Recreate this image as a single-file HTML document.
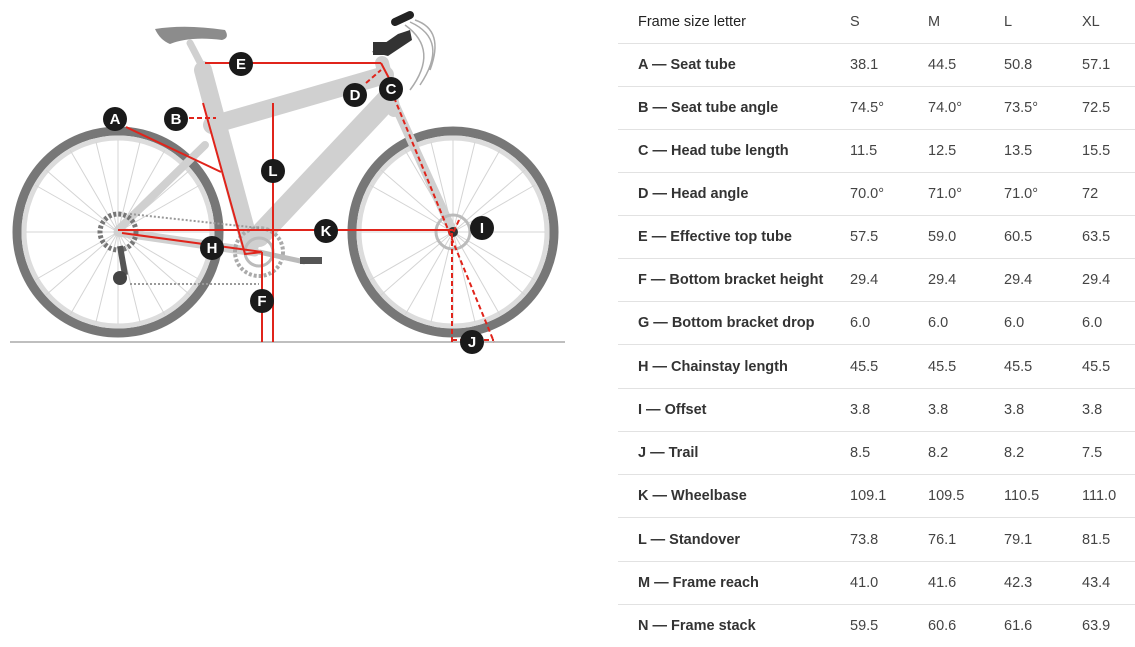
<!DOCTYPE html>
<html><head><meta charset="utf-8"><style>
body{margin:0;width:1135px;height:644px;background:#fff;overflow:hidden;position:relative;font-family:"Liberation Sans",Arial,sans-serif;}
svg{position:absolute;left:0;top:0}
.t{position:absolute;left:618px;top:0;width:517px}
.r{position:absolute;left:0;width:517px;height:43px;border-bottom:1px solid #e2e2e2;font-size:14.5px;color:#444}
.r span{position:absolute;top:50%;transform:translateY(-50%);white-space:nowrap}
.r b{position:absolute;left:20px;top:50%;transform:translateY(-50%);color:#333;white-space:nowrap}
.h b{font-weight:normal;color:#222}
</style></head><body>
<svg width="600" height="360" viewBox="0 0 600 360">
<g fill="none">
<!-- wheels -->
<circle cx="118" cy="232" r="101" stroke="#777" stroke-width="9"/>
<circle cx="118" cy="232" r="94" stroke="#dcdcdc" stroke-width="5"/>
<circle cx="453" cy="232" r="101" stroke="#777" stroke-width="9"/>
<circle cx="453" cy="232" r="94" stroke="#dcdcdc" stroke-width="5"/>
<g stroke="#d4d4d4" stroke-width="1">
<path d="M118 232L118 140M118 232L165 150M118 232L200 185M118 232L210 232M118 232L200 280M118 232L165 315M118 232L118 324M118 232L70 315M118 232L35 280M118 232L26 232M118 232L35 185M118 232L70 150M118 232L140 142M118 232L96 142M118 232L190 170M118 232L46 170M118 232L190 295M118 232L46 295M118 232L140 322M118 232L96 322"/>
<path d="M453 232L453 140M453 232L500 150M453 232L535 185M453 232L545 232M453 232L535 280M453 232L500 315M453 232L453 324M453 232L405 315M453 232L370 280M453 232L361 232M453 232L370 185M453 232L405 150M453 232L475 142M453 232L431 142M453 232L525 170M453 232L381 170M453 232L525 295M453 232L381 295M453 232L475 322M453 232L431 322"/>
</g>
<!-- frame -->
<g stroke="#d0d0d0" stroke-linecap="round">
<path d="M118 230L205 145" stroke-width="8"/>
<path d="M118 232L255 252" stroke-width="9"/>
<path d="M203 70L250 245" stroke-width="18"/>
<path d="M212 125L385 75" stroke-width="18"/>
<path d="M387 100L259 236" stroke-width="22"/>
<path d="M382 63L394 110" stroke-width="14"/>
<path d="M396 107L453 232" stroke-width="9"/>
<path d="M190 43L203 68" stroke-width="7"/>
</g>
<path d="M155 29Q185 24 225 30Q230 38 222 40Q190 36 170 44Q160 40 155 29Z" fill="#8c8c8c"/>
<path d="M372 52L398 34L410 30L412 40L388 56Z" fill="#333"/>
<rect x="373" y="42" width="14" height="13" fill="#333"/>
<path d="M395 22L410 15" stroke="#222" stroke-width="8" stroke-linecap="round"/>
<path d="M410 22Q450 40 420 85M405 25Q440 50 410 90M415 20Q445 30 430 70" stroke="#aaa" stroke-width="1.5"/>
<circle cx="259" cy="252" r="24" stroke="#aaa" stroke-width="4" stroke-dasharray="3 2"/>
<circle cx="259" cy="252" r="14" stroke="#bbb" stroke-width="3"/>
<path d="M259 252L305 262" stroke="#bbb" stroke-width="5"/>
<rect x="300" y="257" width="22" height="7" fill="#555"/>
<circle cx="118" cy="232" r="18" stroke="#777" stroke-width="5" stroke-dasharray="3 2"/>
<path d="M120 246L125 275" stroke="#555" stroke-width="6"/>
<circle cx="120" cy="278" r="7" fill="#444"/>
<path d="M130 214L259 228M130 284L259 284" stroke="#999" stroke-width="2" stroke-dasharray="2 2"/>
<circle cx="453" cy="232" r="17" stroke="#bbb" stroke-width="3"/>
<circle cx="453" cy="232" r="5" fill="#333"/>
<line x1="10" y1="342" x2="565" y2="342" stroke="#aaa" stroke-width="1.5"/>
<!-- red measures -->
<g stroke="#e0241b" stroke-width="2">
<path d="M205 63H381"/>
<path d="M126 127L221 172"/>
<path d="M203 103L245 254L262 252"/>
<path d="M122 233L262 252"/>
<path d="M118 230H453"/>
<path d="M273 103V342"/>
<path d="M262 252V342"/>
<path d="M381 63L391 82"/>
<path d="M189 118H216M366 83L381 70M391 90L494 342M452 233V342M452 340H494M459 220L453 233" stroke-dasharray="5 3"/>
</g>
</g>
<g font-family="Liberation Sans,Arial,sans-serif" font-weight="bold" font-size="15" fill="#fff" text-anchor="middle">
<g fill="#1a1a1a"><circle cx="115" cy="119" r="12"/><circle cx="176" cy="119" r="12"/><circle cx="391" cy="89" r="12"/><circle cx="355" cy="95" r="12"/><circle cx="241" cy="64" r="12"/><circle cx="262" cy="301" r="12"/><circle cx="212" cy="248" r="12"/><circle cx="482" cy="228" r="12"/><circle cx="472" cy="342" r="12"/><circle cx="326" cy="231" r="12"/><circle cx="273" cy="171" r="12"/></g>
<text x="115" y="124">A</text><text x="176" y="124">B</text><text x="391" y="94">C</text><text x="355" y="100">D</text><text x="241" y="69">E</text><text x="262" y="306">F</text><text x="212" y="253">H</text><text x="482" y="233">I</text><text x="472" y="347">J</text><text x="326" y="236">K</text><text x="273" y="176">L</text>
</g>
</svg>
<div class="t">
<div class="r h" style="top:0"><b>Frame size letter</b><span style="left:232px">S</span><span style="left:310px">M</span><span style="left:386px">L</span><span style="left:464px">XL</span></div>
<div class="r" style="top:43px"><b>A — Seat tube</b><span style="left:232px">38.1</span><span style="left:310px">44.5</span><span style="left:386px">50.8</span><span style="left:464px">57.1</span></div>
<div class="r" style="top:86px"><b>B — Seat tube angle</b><span style="left:232px">74.5°</span><span style="left:310px">74.0°</span><span style="left:386px">73.5°</span><span style="left:464px">72.5</span></div>
<div class="r" style="top:129px"><b>C — Head tube length</b><span style="left:232px">11.5</span><span style="left:310px">12.5</span><span style="left:386px">13.5</span><span style="left:464px">15.5</span></div>
<div class="r" style="top:172px"><b>D — Head angle</b><span style="left:232px">70.0°</span><span style="left:310px">71.0°</span><span style="left:386px">71.0°</span><span style="left:464px">72</span></div>
<div class="r" style="top:215px"><b>E — Effective top tube</b><span style="left:232px">57.5</span><span style="left:310px">59.0</span><span style="left:386px">60.5</span><span style="left:464px">63.5</span></div>
<div class="r" style="top:258px"><b>F — Bottom bracket height</b><span style="left:232px">29.4</span><span style="left:310px">29.4</span><span style="left:386px">29.4</span><span style="left:464px">29.4</span></div>
<div class="r" style="top:301px"><b>G — Bottom bracket drop</b><span style="left:232px">6.0</span><span style="left:310px">6.0</span><span style="left:386px">6.0</span><span style="left:464px">6.0</span></div>
<div class="r" style="top:345px"><b>H — Chainstay length</b><span style="left:232px">45.5</span><span style="left:310px">45.5</span><span style="left:386px">45.5</span><span style="left:464px">45.5</span></div>
<div class="r" style="top:388px"><b>I — Offset</b><span style="left:232px">3.8</span><span style="left:310px">3.8</span><span style="left:386px">3.8</span><span style="left:464px">3.8</span></div>
<div class="r" style="top:431px"><b>J — Trail</b><span style="left:232px">8.5</span><span style="left:310px">8.2</span><span style="left:386px">8.2</span><span style="left:464px">7.5</span></div>
<div class="r" style="top:474px"><b>K — Wheelbase</b><span style="left:232px">109.1</span><span style="left:310px">109.5</span><span style="left:386px">110.5</span><span style="left:464px">111.0</span></div>
<div class="r" style="top:518px"><b>L — Standover</b><span style="left:232px">73.8</span><span style="left:310px">76.1</span><span style="left:386px">79.1</span><span style="left:464px">81.5</span></div>
<div class="r" style="top:561px"><b>M — Frame reach</b><span style="left:232px">41.0</span><span style="left:310px">41.6</span><span style="left:386px">42.3</span><span style="left:464px">43.4</span></div>
<div class="r" style="top:604px;border-bottom:none"><b>N — Frame stack</b><span style="left:232px">59.5</span><span style="left:310px">60.6</span><span style="left:386px">61.6</span><span style="left:464px">63.9</span></div>
</div>
</body></html>
